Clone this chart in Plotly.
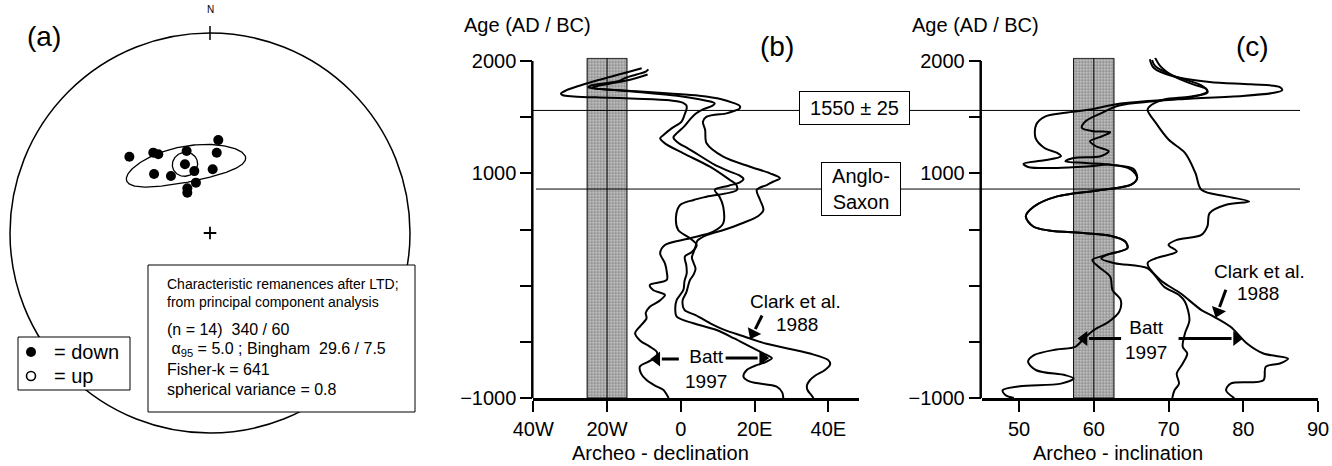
import numpy as np
import plotly.graph_objects as go

W, H = 1332, 466
FONT = "Liberation Sans, Arial, sans-serif"

# ---------------- DATA ----------------
# (a) characteristic remanence directions of the samples (declination, inclination in degrees)
site_dec = [313.4, 324.8, 326.7, 344.1, 5.1, 4.8, 316.5, 325.6, 345.8, 2.4, 344.4, 333.1, 330.6]
site_inc = [43.8, 49.3, 51.1, 54.9, 51.5, 56.9, 56.6, 61.7, 63.9, 63.9, 68.7, 69.6, 71.2]
mean_dec, mean_inc = 340.0, 60.0
alpha95 = 5.0
bingham_semi_axes = (24.0, 7.5)      # as drawn on the net (deg)
bingham_rotation = 10.0              # deg, rotation of long axis

# (b) archaeomagnetic declination curves: (year AD/BC, declination, E positive)
batt_lo_dec = [(1880, -9), (1840, -13), (1800, -19), (1775, -23), (1760, -24), (1745, -19), (1720, -10),
               (1690, -1), (1660, 5), (1635, 8.5), (1623, 9.2), (1600, 8.5), (1570, 6), (1530, 4),
               (1480, 2.5), (1420, 1), (1360, -1), (1320, -2), (1280, -1), (1220, 2), (1150, 5.5),
               (1080, 9), (1020, 13), (980, 16), (950, 17), (920, 16), (890, 13), (852, 9.2),
               (792, 10.5), (703, 11.5), (555, 11.5), (481, 8.8), (422, 2.5), (362, -4.3), (288, -5.6),
               (199, -4.3), (120, -3.8), (51, -3.8), (6, -8.4), (-39, -7.5), (-83, -4.3), (-140, -6),
               (-187, -8.4), (-240, -9.5), (-291, -9.3), (-360, -11), (-424, -12.4), (-490, -11),
               (-543, -8.4), (-590, -6.5), (-632, -6.6), (-680, -9), (-721, -11.1), (-780, -10.8),
               (-840, -9.3), (-890, -7), (-929, -4.7), (-960, -4), (-1000, -3.3)]
batt_hi_dec = [(1935, -10.6), (1900, -14.5), (1860, -19), (1820, -23.5), (1780, -27.5), (1740, -31),
               (1710, -32.5), (1695, -32), (1685, -29), (1675, -22), (1665, -12), (1650, -3),
               (1630, 0.5), (1605, 1.5), (1579, 1.6), (1520, 1), (1460, 0.2), (1400, -2.5),
               (1341, -4.7), (1312, -5.6), (1267, -4.3), (1178, 0.7), (1059, 7.9), (941, 13.3),
               (900, 15), (852, 15.2), (792, 7), (763, 3.5), (718, -0.2), (614, -1.3), (496, -0.7),
               (422, 2.5), (362, 4.3), (300, 3), (259, 1.1), (180, 1.5), (110, 1.6), (40, 1),
               (-38, 0.7), (-127, -1.1), (-200, -1.5), (-276, -1.1), (-335, 3.4), (-395, 9.7),
               (-470, 14.5), (-543, 18.8), (-617, 23.3), (-647, 24.7), (-680, 23), (-715, 20),
               (-751, 17.9), (-810, 17), (-855, 18.8), (-899, 26), (-950, 27.5), (-1000, 27.8)]
clark_dec = [(1926, -8.8), (1905, -9.5), (1880, -12), (1850, -15), (1820, -17), (1800, -21),
             (1780, -24.5), (1766, -25.1), (1750, -22), (1730, -12), (1710, -3), (1690, 5),
             (1660, 11), (1630, 14), (1600, 16), (1579, 16), (1550, 14), (1534, 12.4), (1504, 7),
             (1460, 6), (1386, 6.6), (1267, 7), (1148, 11.5), (1059, 18.8), (1000, 24.2),
             (956, 26.9), (925, 25), (896, 23.3), (852, 20.6), (763, 21.5), (674, 22.4), (620, 21),
             (560, 17), (500, 12), (450, 7), (400, 4.5), (348, 4), (300, 3.5), (250, 3), (200, 3.5),
             (150, 4), (100, 3.5), (50, 2.5), (0, 2), (-60, 1.5), (-130, 0.5), (-216, 1), (-262, 4),
             (-335, 8), (-396, 12), (-450, 17), (-515, 23), (-573, 31), (-604, 35), (-663, 40),
             (-700, 40.5), (-753, 39), (-800, 36.5), (-842, 35), (-890, 34.2), (-931, 34.4),
             (-970, 35.3), (-1000, 36)]

# (c) archaeomagnetic inclination curves: (year AD/BC, inclination)
batt_lo_inc = [(2015, 67.5), (1940, 68.0), (1866, 70.5), (1813, 75.5), (1792, 81.0), (1768, 84.9),
               (1740, 85.2), (1717, 84.1), (1688, 79.9), (1664, 72.8), (1643, 67.2), (1613, 62.8),
               (1568, 59.5), (1539, 56.2), (1503, 53.4), (1435, 52.3), (1316, 52.2), (1226, 53.4),
               (1182, 55.1), (1152, 55.6), (1116, 53.4), (1086, 50.6), (1057, 51.2), (1048, 55.1),
               (1063, 59.5), (1077, 62.2), (1033, 65.0), (958, 65.8), (899, 65.0), (848, 60.6),
               (795, 55.1), (705, 52.0), (616, 50.9), (527, 51.9), (491, 54.0), (467, 58.9),
               (444, 62.2), (393, 64.2), (334, 64.5), (274, 61.7), (229, 59.8), (170, 60.6),
               (80, 62.2), (-39, 62.5), (-128, 63.6), (-232, 63.4), (-321, 62.0), (-396, 60.0),
               (-470, 58.7), (-545, 57.5), (-568, 55.0), (-619, 52.0), (-678, 51.2), (-753, 52.3),
               (-797, 56.2), (-827, 57.3), (-872, 55.6), (-896, 50.1), (-931, 47.8), (-976, 48.2),
               (-1000, 49.3)]
batt_hi_inc = [(2009, 67.8), (1955, 68.2), (1872, 70.5), (1783, 74.4), (1732, 75.2), (1682, 73.3),
               (1643, 68.3), (1604, 63.4), (1539, 61.1), (1464, 58.9), (1405, 58.4), (1375, 60.0),
               (1366, 62.2), (1330, 61.1), (1286, 59.5), (1241, 60.3), (1197, 62.0), (1152, 60.9),
               (1137, 57.3), (1107, 56.2), (1092, 58.9), (1075, 62.5), (1040, 65.3), (958, 65.8),
               (899, 65.0), (848, 60.6), (795, 55.1), (705, 52.0), (616, 50.9), (527, 51.9),
               (491, 54.0), (467, 58.9), (444, 62.2), (393, 64.2), (334, 64.5), (274, 61.7),
               (240, 61.0), (200, 62.8), (155, 67.2), (80, 68.3), (-9, 69.4), (-83, 71.4),
               (-143, 72.2), (-306, 72.8), (-425, 72.2), (-544, 71.9), (-604, 72.5), (-693, 71.9),
               (-783, 71.1), (-872, 71.4), (-931, 70.8), (-1000, 70.5)]
clark_inc = [(2030, 68.2), (1955, 68.9), (1860, 70.8), (1792, 73.3), (1753, 75.0), (1717, 75.2),
             (1682, 72.8), (1658, 69.4), (1613, 67.8), (1568, 67.2), (1449, 68.3), (1301, 70.0),
             (1182, 72.2), (1003, 73.6), (854, 74.4), (795, 77.7), (750, 80.8), (720, 77.7),
             (646, 75.5), (527, 75.2), (452, 74.4), (408, 71.1), (363, 70.0), (304, 71.1),
             (244, 68.3), (200, 67.2), (51, 68.9), (-68, 71.6), (-217, 74.4), (-277, 76.1),
             (-366, 78.3), (-515, 80.5), (-604, 82.7), (-649, 86.0), (-693, 84.9), (-723, 83.0),
             (-842, 82.7), (-872, 78.3), (-931, 77.7), (-1000, 78.8)]

# site mean (dec 340 = 20W, inc 60) with its uncertainty band
dec_band = (-20.0, 5.4)
inc_band = (60.0, 2.7)
band_top_year = 2025
event_years = [1560, 860]
event_labels = ["1550 ± 25", "Anglo-<br>Saxon"]

dec_ticks = [-40, -20, 0, 20, 40]
dec_ticktext = ["40W", "20W", "0", "20E", "40E"]
inc_ticks = [50, 60, 70, 80, 90]
year_ticks = [-1000, 1000, 2000]
year_minor_ticks = [-500, 0, 500, 1500]

# ---------------- helpers ----------------
def eqarea(dec, inc):
    d = np.radians(np.asarray(dec, float))
    i = np.radians(np.asarray(inc, float))
    r = np.sqrt(2) * np.sin((np.pi / 2 - i) / 2)
    return r * np.sin(d), r * np.cos(d)


def cone(dec, inc, a, b, rot, n=241):
    D, I = np.radians(dec), np.radians(inc)
    m = np.array([np.cos(I) * np.cos(D), np.cos(I) * np.sin(D), np.sin(I)])
    u = np.array([-np.sin(D), np.cos(D), 0.0])
    v = np.array([-np.sin(I) * np.cos(D), -np.sin(I) * np.sin(D), np.cos(I)])
    r = np.radians(rot)
    e1 = np.cos(r) * u + np.sin(r) * v
    e2 = -np.sin(r) * u + np.cos(r) * v
    t = np.linspace(0, 2 * np.pi, n)
    p = (m[:, None] + np.tan(np.radians(a)) * np.cos(t) * e1[:, None]
         + np.tan(np.radians(b)) * np.sin(t) * e2[:, None])
    p /= np.linalg.norm(p, axis=0)
    return eqarea(np.degrees(np.arctan2(p[1], p[0])), np.degrees(np.arcsin(p[2])))


def PX(x):
    return x / W


def PY(y):
    return 1 - y / H


def AX(x):   # pixel -> stereonet data coordinate (panel a)
    return (x - 210) / 200


def AY(y):
    return (233 - y) / 200


def unzip(pairs):
    return [p[1] for p in pairs], [p[0] for p in pairs]


# pixel geometry of the panels
A_X, A_Y = (0, 420), (23, 443)
B_X, C_X = (533.3, 859.4), (981.7, 1318.0)
Y_TOP, Y_BOT = 57.63, 398.0
dec_max = -40 + (B_X[1] - B_X[0]) / 3.6875
PX_PER_DEC_B = (B_X[1] - B_X[0]) / (dec_max + 40)
PX_PER_DEG_C = (C_X[1] - C_X[0]) / 45.0
PX_PER_YEAR = (Y_BOT - Y_TOP) / 3030.0

fig = go.Figure()

# ---------------- panel (a) ----------------
ex, ey = cone(mean_dec, mean_inc, *bingham_semi_axes, bingham_rotation)
fig.add_trace(go.Scatter(x=ex, y=ey, mode="lines", line=dict(color="black", width=1.3),
                         xaxis="x", yaxis="y", hoverinfo="skip"))
cx, cy = cone(mean_dec, mean_inc, alpha95, alpha95, 0)
fig.add_trace(go.Scatter(x=cx, y=cy, mode="lines", line=dict(color="black", width=1.3),
                         xaxis="x", yaxis="y", hoverinfo="skip"))
sx, sy = eqarea(site_dec, site_inc)
fig.add_trace(go.Scatter(x=sx, y=sy, mode="markers", marker=dict(color="black", size=10),
                         xaxis="x", yaxis="y"))
mx, my = eqarea([mean_dec], [mean_inc])
fig.add_trace(go.Scatter(x=mx, y=my, mode="markers", marker=dict(color="black", size=10),
                         xaxis="x", yaxis="y"))
fig.add_trace(go.Scatter(x=[0], y=[0], mode="markers",
                         marker=dict(symbol="cross-thin", size=9, line=dict(color="black", width=1.8)),
                         xaxis="x", yaxis="y"))
# legend symbols
fig.add_trace(go.Scatter(x=[AX(31)], y=[AY(352)], mode="markers", marker=dict(color="black", size=10),
                         xaxis="x", yaxis="y"))
fig.add_trace(go.Scatter(x=[AX(31)], y=[AY(376)], mode="markers",
                         marker=dict(symbol="circle-open", color="black", size=9, line=dict(width=1.6)),
                         xaxis="x", yaxis="y"))

shapes = []
shapes.append(dict(type="circle", xref="x", yref="y", x0=-1, y0=-1, x1=1, y1=1,
                   line=dict(color="black", width=1.5), layer="below"))
shapes.append(dict(type="line", xref="x", yref="y", x0=0, x1=0, y0=0.965, y1=1.035,
                   line=dict(color="black", width=1.5), layer="below"))
shapes.append(dict(type="rect", xref="x", yref="y", x0=AX(18), x1=AX(130), y0=AY(390), y1=AY(337),
                   fillcolor="white", line=dict(color="black", width=1), layer="below"))
shapes.append(dict(type="rect", xref="x", yref="y", x0=AX(148), x1=AX(415), y0=AY(412), y1=AY(265),
                   fillcolor="white", line=dict(color="black", width=1), layer="below"))

# ---------------- panels (b) and (c) ----------------
def add_band(mean, half, xa, ya):
    fig.add_trace(go.Scatter(
        x=[mean - half, mean + half, mean + half, mean - half, mean - half],
        y=[-1000, -1000, band_top_year, band_top_year, -1000],
        mode="lines", fill="toself", fillcolor="#bdbdbd",
        fillpattern=dict(shape=".", fgcolor="#3c3c3c", bgcolor="#cfcfcf", size=3, solidity=0.5),
        line=dict(color="black", width=1), xaxis=xa, yaxis=ya, hoverinfo="skip"))
    fig.add_trace(go.Scatter(x=[mean, mean], y=[-1000, band_top_year], mode="lines",
                             line=dict(color="black", width=1), xaxis=xa, yaxis=ya))


add_band(*dec_band, "x2", "y2")
add_band(*inc_band, "x3", "y3")

for curve in (batt_lo_dec, batt_hi_dec, clark_dec):
    xv, yv = unzip(curve)
    fig.add_trace(go.Scatter(x=xv, y=yv, mode="lines", line=dict(color="black", width=2, shape="spline",
                                                                  smoothing=0.9),
                             xaxis="x2", yaxis="y2"))
for curve in (batt_lo_inc, batt_hi_inc, clark_inc):
    xv, yv = unzip(curve)
    fig.add_trace(go.Scatter(x=xv, y=yv, mode="lines", line=dict(color="black", width=2, shape="spline",
                                                                  smoothing=0.9),
                             xaxis="x3", yaxis="y3"))


def arrow(x, y, dx_px, dy_px, xa, ya, px_per_x):
    """Arrow whose head sits at (x, y); the tail is dx_px/dy_px screen pixels away."""
    length = float(np.hypot(dx_px, dy_px))
    tx = x + dx_px / px_per_x
    ty = y - dy_px / PX_PER_YEAR
    hx = x + (dx_px / length) * 5 / px_per_x
    hy = y - (dy_px / length) * 5 / PX_PER_YEAR
    fig.add_trace(go.Scatter(x=[tx, hx], y=[ty, hy], mode="lines",
                             line=dict(color="black", width=3),
                             xaxis=xa, yaxis=ya, hoverinfo="skip"))
    fig.add_trace(go.Scatter(x=[tx, x], y=[ty, y], mode="markers",
                             marker=dict(symbol=["circle", "triangle-up"], size=[0, 13], color="black",
                                         opacity=1, angleref="previous", line=dict(width=0)),
                             xaxis=xa, yaxis=ya, hoverinfo="skip"))


# (b) label arrows
arrow(-6.5, -653, 22, 0, "x2", "y2", PX_PER_DEC_B)
arrow(22.2, -644, -37, 0, "x2", "y2", PX_PER_DEC_B)
arrow(19.6, -426, 9, -18, "x2", "y2", PX_PER_DEC_B)
# (c) label arrows
arrow(58.7, -470, 37, 0, "x3", "y3", PX_PER_DEG_C)
arrow(79.1, -470, -58, 0, "x3", "y3", PX_PER_DEG_C)
arrow(76.6, -232, 8, -22, "x3", "y3", PX_PER_DEG_C)

# y axis lines (drawn to 2000 only)
for xp in (B_X[0], C_X[0]):
    shapes.append(dict(type="line", xref="paper", yref="y2", x0=PX(xp - 1), x1=PX(xp - 1), y0=-1000, y1=2000,
                       line=dict(color="black", width=2.5)))
# event lines
for yr, x0 in zip(event_years, (533, 536)):
    shapes.append(dict(type="line", xref="paper", yref="y2", x0=PX(x0), x1=PX(1300), y0=yr, y1=yr,
                       line=dict(color="black", width=1)))

ann = []


def text(x, y, s, size, xanchor="center", **kw):
    d = dict(x=PX(x), y=PY(y), xref="paper", yref="paper", text=s, showarrow=False,
             xanchor=xanchor, yanchor="middle", font=dict(family=FONT, size=size, color="black"))
    d.update(kw)
    ann.append(d)


# panel (a) texts
text(44, 36, "(a)", 28)
text(210, 10, "N", 10)
text(52, 352, "=\u00a0down", 20, xanchor="left")
text(52, 376, "=\u00a0up", 20, xanchor="left")
info = [("Characteristic remanences after LTD;", 284, 14),
        ("from principal component analysis", 302, 14),
        ("(n = 14)\u00a0\u00a0340 / 60", 329, 16),
        ("\u00a0α<sub>95</sub> = 5.0 ; Bingham\u00a0\u00a029.6 / 7.5", 349, 16),
        ("Fisher-k = 641", 369, 16),
        ("spherical variance = 0.8", 389, 16)]
for s, y, fs in info:
    text(165, y, s, fs, xanchor="left")

# panel labels and titles
text(462, 25, "Age (AD / BC)", 20, xanchor="left")
text(910, 25, "Age (AD / BC)", 20, xanchor="left")
text(777, 46, "(b)", 28)
text(1252, 46, "(c)", 28)
text(660, 453, "Archeo - declination", 20)
text(1118, 453, "Archeo - inclination", 20)

# event boxes
text(854.5, 108, event_labels[0], 20, bgcolor="white", bordercolor="black", borderwidth=1,
     borderpad=3, width=103, height=26)
text(860.5, 188.5, event_labels[1], 20, bgcolor="white", bordercolor="black", borderwidth=1,
     borderpad=2, width=74, height=48)


def dtext(x, y, s, xa, ya, size=19):
    ann.append(dict(x=x, y=y, xref=xa, yref=ya, text=s, showarrow=False, xanchor="center",
                    yanchor="middle", font=dict(family=FONT, size=size, color="black")))


# (b) curve labels
dtext(6.8, -742, "Batt<br>1997", "x2", "y2")
dtext(31.0, -145, "Clark et al.", "x2", "y2")
dtext(31.6, -350, "1988", "x2", "y2")
# (c) curve labels
dtext(67.0, -488, "Batt<br>1997", "x3", "y3")
dtext(82.2, 122, "Clark et al.", "x3", "y3")
dtext(82.0, -74, "1988", "x3", "y3")

hidden = dict(visible=False, showgrid=False, zeroline=False, fixedrange=True, automargin=False)
ax_common = dict(showgrid=False, zeroline=False, ticks="outside", tickwidth=2, tickcolor="black",
                 automargin=False, tickfont=dict(family=FONT, size=20, color="black"))
yminor = dict(tickvals=year_minor_ticks, ticks="outside", ticklen=12, tickwidth=2, tickcolor="black",
              showgrid=False)
ydom = [PY(Y_BOT), PY(Y_TOP)]

fig.update_layout(
    width=W, height=H, autosize=False,
    margin=dict(l=0, r=0, t=0, b=0, pad=0, autoexpand=False), showlegend=False,
    paper_bgcolor="white", plot_bgcolor="rgba(0,0,0,0)",
    xaxis=dict(domain=[PX(A_X[0]), PX(A_X[1])], range=[-1.05, 1.05], anchor="y", **hidden),
    yaxis=dict(domain=[PY(A_Y[1]), PY(A_Y[0])], range=[-1.05, 1.05], anchor="x", **hidden),
    xaxis2=dict(domain=[PX(B_X[0]), PX(B_X[1])], range=[-40, dec_max], anchor="y2",
                tickvals=dec_ticks, ticktext=dec_ticktext, ticklen=11, showline=True,
                linewidth=2.5, linecolor="black", **ax_common),
    yaxis2=dict(domain=ydom, range=[-1000, 2030], anchor="x2", tickvals=year_ticks,
                ticklen=12, showline=False, minor=yminor, **ax_common),
    xaxis3=dict(domain=[PX(C_X[0]), PX(C_X[1])], range=[45, 90], anchor="y3",
                tickvals=inc_ticks, ticklen=11, showline=True,
                linewidth=2.5, linecolor="black", **ax_common),
    yaxis3=dict(domain=ydom, range=[-1000, 2030], anchor="x3", tickvals=year_ticks,
                ticklen=12, showline=False, minor=yminor, **ax_common),
    shapes=shapes, annotations=ann,
)

fig.write_html("out.html", config={"displayModeBar": False},
               post_script="document.body.style.margin='0px';document.body.style.overflow='hidden';")
